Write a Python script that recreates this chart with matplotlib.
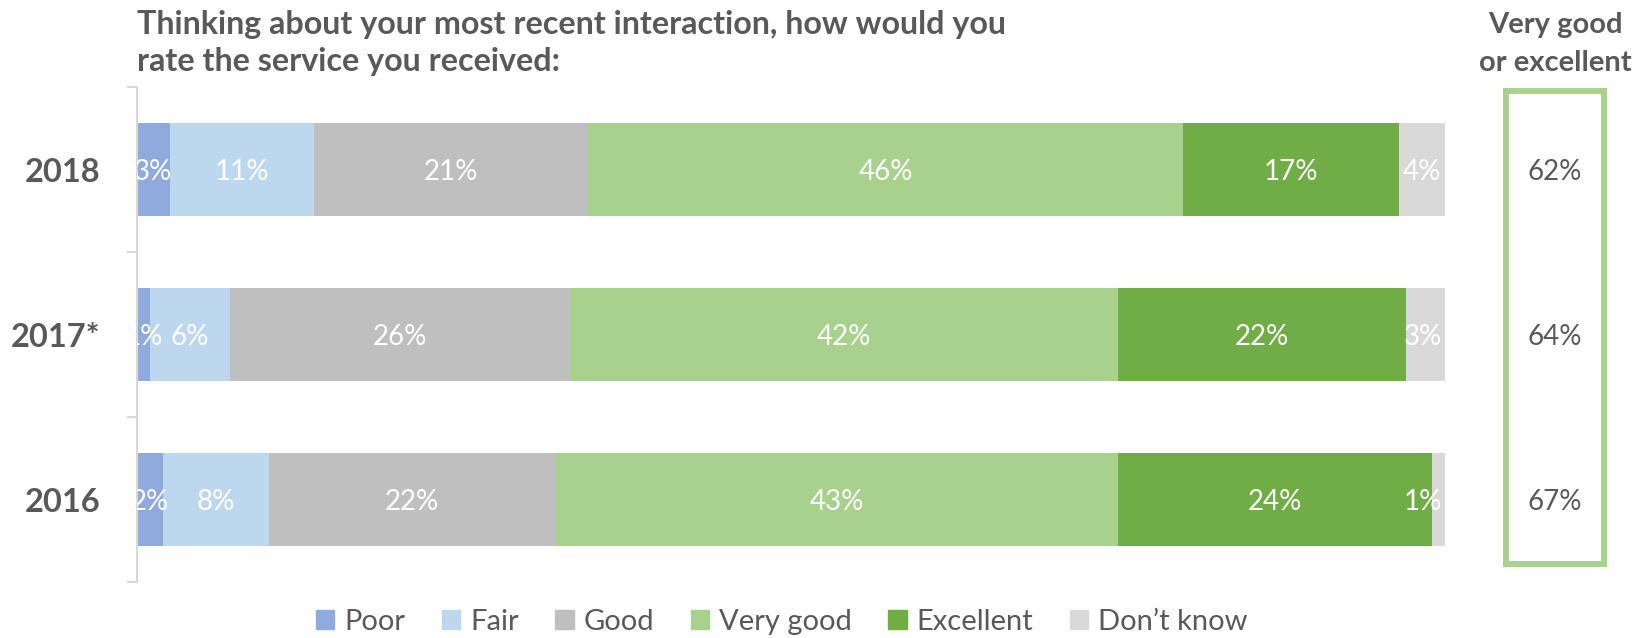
import matplotlib.pyplot as plt
import matplotlib.transforms as mtransforms
from matplotlib.patches import Patch, Rectangle

plt.rcParams['font.family'] = ['Lato', 'DejaVu Sans']

years = ["2018", "2017*", "2016"]
categories = ["Poor", "Fair", "Good", "Very good", "Excellent", "Don\u2019t know"]
colors = ["#8FAADC", "#BDD7EE", "#BFBFBF", "#A9D18E", "#70AD47", "#D9D9D9"]

# shares per year (in %)
poor = [2.5, 1.0, 2.0]
fair = [11.0, 6.1, 8.1]
good = [21.0, 26.0, 21.9]
very_good = [45.5, 41.9, 43.0]
excellent = [16.5, 22.0, 24.0]
dont_know = [3.5, 3.0, 1.0]

series = [poor, fair, good, very_good, excellent, dont_know]
TEXT = "#595959"
W, H = 1636, 638


def pct(v):
    return f"{int(v + 0.5)}%"


fig = plt.figure(figsize=(W / 100, H / 100), dpi=100)
ax = fig.add_axes([137 / W, 1 - 582 / H, (1445 - 137) / W, (582 - 87) / H])

ypos = list(range(len(years)))
left = [0.0] * len(years)
labels = []
for name, vals, col in zip(categories, series, colors):
    ax.barh(ypos, vals, left=left, height=0.56, color=col, label=name)
    for i, v in enumerate(vals):
        t = ax.text(left[i] + v / 2, i, pct(v), ha="center", va="center_baseline",
                    color="white", fontsize=20, clip_on=True)
        labels.append(t)
    left = [l + v for l, v in zip(left, vals)]

ax.set_xlim(0, 100)
ax.set_ylim(2.5, -0.5)
ax.set_xticks([])
for s in ["top", "right", "bottom"]:
    ax.spines[s].set_visible(False)
ax.spines["left"].set_color("#D9D9D9")
ax.spines["left"].set_linewidth(1.5)
ax.set_yticks(ypos)
ax.set_yticklabels(years, fontsize=23.5, fontweight="bold", color=TEXT)
ax.tick_params(axis="y", which="major", length=0, pad=26.5)
ax.set_yticks([-0.5, 0.5, 1.5, 2.5], minor=True)
ax.tick_params(axis="y", which="minor", length=7, width=1.5, color="#D9D9D9")

# keep labels at the right end inside the plot area
renderer = fig.canvas.get_renderer()
ax_right = ax.get_window_extent(renderer).x1 - 3
for t in labels:
    bb = t.get_window_extent(renderer)
    if bb.x1 > ax_right:
        x_px = ax.transData.transform((t.get_position()[0], 0))[0] - (bb.x1 - ax_right)
        t.set_x(ax.transData.inverted().transform((x_px, 0))[0])

# title
fig.text(137 / W, 1 - 34 / H, "Thinking about your most recent interaction, how would you",
         fontsize=23.2, fontweight="bold", color=TEXT, va="baseline")
fig.text(137 / W, 1 - 71 / H, "rate the service you received:",
         fontsize=23.2, fontweight="bold", color=TEXT, va="baseline")

# side box: very good or excellent
bx = 1555 / W
fig.text(bx, 1 - 33 / H, "Very good", fontsize=21, fontweight="bold", color=TEXT,
         ha="center", va="baseline")
fig.text(bx, 1 - 71 / H, "or excellent", fontsize=21, fontweight="bold", color=TEXT,
         ha="center", va="baseline")
fig.patches.append(Rectangle((1506 / W, 1 - 564 / H), (1604 - 1506) / W, (564 - 91) / H,
                             transform=fig.transFigure, fill=False,
                             edgecolor="#A9D18E", linewidth=4.3))
trans = mtransforms.blended_transform_factory(fig.transFigure, ax.transData)
for i in ypos:
    fig.text(bx, i, pct(very_good[i] + excellent[i]), transform=trans,
             ha="center", va="center_baseline", fontsize=20, color=TEXT)

handles = [Patch(color=c, label=n) for n, c in zip(categories, colors)]
fig.legend(handles=handles, loc="center", bbox_to_anchor=(782 / W, 1 - 622 / H),
           ncol=6, frameon=False, fontsize=21, labelcolor=TEXT,
           handlelength=0.62, handleheight=0.62, handletextpad=0.35,
           columnspacing=1.25)

fig.savefig("out.png", dpi=100)
